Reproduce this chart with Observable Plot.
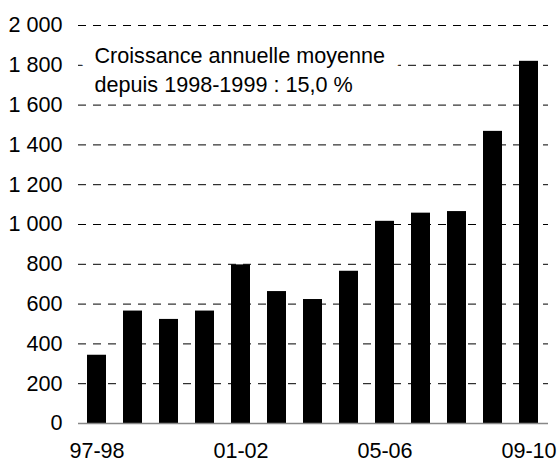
<!DOCTYPE html>
<html>
<head>
<meta charset="utf-8">
<script src="https://cdn.jsdelivr.net/npm/d3@7"></script>
<script src="https://cdn.jsdelivr.net/npm/@observablehq/plot@0.6"></script>
<style>
  html, body { margin: 0; padding: 0; background: #fff; }
</style>
</head>
<body>
<div id="chart"></div>
<script>
const years = ["97-98","98-99","99-00","00-01","01-02","02-03","03-04","04-05","05-06","06-07","07-08","08-09","09-10"];
const values = [343, 565, 523, 565, 797, 663, 623, 765, 1016, 1057, 1065, 1468, 1820];
const xTickLabels = ["97-98","01-02","05-06","09-10"];
const yTicks = [0,200,400,600,800,1000,1200,1400,1600,1800,2000];
const gridValues = [200,400,600,800,1000,1200,1400,1600,1800,2000];
const annotation = ["Croissance annuelle moyenne", "depuis 1998-1999 : 15,0 %"];

const data = years.map((y, i) => ({year: y, value: values[i]}));
const fmt = v => d3.format(",")(v).replace(/,/g, " ");
const FS = 21.6;

const chart = Plot.plot({
  width: 560,
  height: 463,
  marginLeft: 78,
  marginRight: 12,
  marginTop: 25,
  marginBottom: 40,
  style: {fontFamily: "'Liberation Sans', Arial, sans-serif", fontSize: FS + "px", color: "#000", background: "#fff"},
  x: {domain: years, paddingInner: 0.47, paddingOuter: 0.235, label: null},
  y: {domain: [0, 2000], label: null},
  marks: [
    Plot.gridY(gridValues, {stroke: "#000", strokeOpacity: 1, strokeDasharray: "8,7", strokeWidth: 1}),
    Plot.text([annotation[0]], {
      frameAnchor: "top-left", textAnchor: "start", lineAnchor: "bottom",
      dx: 16, dy: 37,
      fontSize: FS, fill: "#000", stroke: "#fff", strokeWidth: 30, strokeLinejoin: "round"
    }),
    Plot.text([annotation[1]], {
      frameAnchor: "top-left", textAnchor: "start", lineAnchor: "bottom",
      dx: 16, dy: 66,
      fontSize: FS, fill: "#000"
    }),
    Plot.barY(data, {x: "year", y: "value", fill: "#000"}),
    Plot.ruleY([0], {stroke: "#888", strokeWidth: 1.5}),
    Plot.axisY({ticks: yTicks, tickSize: 0, tickPadding: 16, tickFormat: fmt, fontSize: FS}),
    Plot.axisX({ticks: xTickLabels, tickSize: 0, tickPadding: 19, fontSize: FS})
  ]
});
document.getElementById("chart").appendChild(chart);
</script>
</body>
</html>
